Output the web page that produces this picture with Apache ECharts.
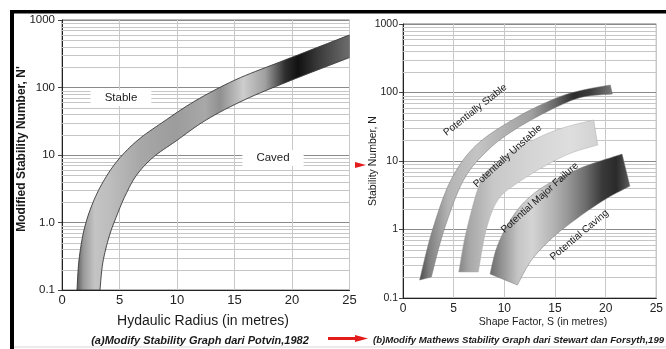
<!DOCTYPE html>
<html><head><meta charset="utf-8">
<script src="https://cdn.jsdelivr.net/npm/echarts@6/dist/echarts.min.js"></script>
<style>html,body{margin:0;padding:0;background:#fff}#c{width:666px;height:349px}</style>
</head><body><div id="c"></div>
<script>
// ---------------- DATA ----------------
const xTicks = [0, 5, 10, 15, 20, 25];
const leftYTickLabels = ['0.1', '1.0', '10', '100', '1000'];
const rightYTickLabels = ['0.1', '1', '10', '100', '1000'];
const minorGridValues = [0.2,0.3,0.4,0.5,0.6,0.7,0.8,0.9, 2,3,4,5,6,7,8,9, 20,30,40,50,60,70,80,90, 200,300,400,500,600,700,800,900];

// (a) Potvin band: upper/left edge and lower/right edge (Hydraulic radius, N')
const potvinUpperX = [1.304, 1.478, 1.913, 2.609, 3.565, 4.870, 6.609, 8.783, 11.565, 15.043, 18.957, 25];
const potvinUpperN = [0.1, 0.278, 0.774, 1.82, 3.98, 8.43, 16.7, 30.8, 63.1, 129, 239, 600];
const potvinLowerX = [3.304, 3.548, 4.113, 4.791, 5.522, 6.470, 7.896, 9.913, 12.53, 15.84, 19.63, 25];
const potvinLowerN = [0.1, 0.253, 0.631, 1.297, 2.55, 4.99, 9.15, 16.1, 33.0, 65.3, 122, 278];

// (b) Stewart & Forsyth bands (Shape factor S, N)
const stableUpperS = [1.64, 2.90, 4.73, 7.24, 11.29, 15.15, 17.76, 20.46];
const stableUpperN = [0.183, 0.98, 5.28, 17.1, 43.9, 83.2, 108.7, 128.6];
const stableLowerS = [2.80, 4.05, 5.98, 8.40, 11.29, 15.15, 17.76, 20.66];
const stableLowerN = [0.203, 0.98, 5.28, 14.5, 30.3, 61.4, 86, 95];

const unstableUpperS = [5.50, 6.27, 7.72, 9.36, 11.29, 15.15, 18.82];
const unstableUpperN = [0.24, 0.98, 5.28, 9.7, 15.5, 28.4, 39.7];
const unstableLowerS = [7.43, 8.20, 9.36, 11.29, 14.19, 16.6, 19.21];
const unstableLowerN = [0.24, 0.98, 2.70, 4.77, 8.75, 13.1, 17.1];

const failureUpperS = [8.59, 9.17, 10.04, 11.29, 12.74, 14.48, 17.76, 21.62];
const failureUpperN = [0.224, 0.50, 0.98, 1.93, 3.19, 4.77, 8.17, 12.6];
const failureLowerS = [11.29, 12.55, 14.0, 15.64, 18.05, 20.17, 22.39];
const failureLowerN = [0.155, 0.336, 0.594, 0.98, 1.80, 2.88, 4.31];

// annotation texts (anchored in data coordinates)
const leftNoteText = ['Stable', 'Caved'];
const leftNoteX = [5.13, 18.35];
const leftNoteN = [70, 9.0];
const rightNoteText = ['Potentially Stable', 'Potentially Unstable', 'Potential Major Failure', 'Potential Caving'];
const rightNoteS = [7.14, 10.33, 13.5, 17.4];
const rightNoteN = [55.6, 11.8, 2.9, 0.83];
const rightNoteAngle = [38, 42, 42, 40];

// ---------------- STYLES ----------------
const FONT = '"Liberation Sans", Arial, Helvetica, sans-serif';
const potvinStops = [[0,'#5c5c5c'],[0.026,'#9a9a9a'],[0.066,'#c4c4c4'],[0.121,'#bdbdbd'],[0.231,'#a8a8a8'],[0.36,'#9c9c9c'],[0.47,'#a8a8a8'],[0.525,'#909090'],[0.61,'#cdcdcd'],[0.69,'#a0a0a0'],[0.763,'#2e2e2e'],[0.81,'#111111'],[0.884,'#3a3a3a'],[1,'#6e6e6e']];
const stableStops = [[0,'#4a4a4a'],[0.05,'#808080'],[0.15,'#b4b4b4'],[0.3,'#c4c4c4'],[0.45,'#b0b0b0'],[0.58,'#a0a0a0'],[0.7,'#6a6a6a'],[0.8,'#2c2c2c'],[0.88,'#3a3a3a'],[1,'#7a7a7a']];
const unstableStops = [[0,'#858585'],[0.08,'#a8a8a8'],[0.25,'#c8c8c8'],[0.5,'#d4d4d4'],[0.8,'#dedede'],[1,'#d2d2d2']];
const failureStops = [[0,'#6a6a6a'],[0.07,'#8c8c8c'],[0.2,'#c4c4c4'],[0.3,'#d4d4d4'],[0.45,'#b4b4b4'],[0.55,'#999999'],[0.68,'#6e6e6e'],[0.8,'#3a3a3a'],[0.9,'#2a2a2a'],[1,'#5c5c5c']];

function smoothPath(pts, steps) {
  if (pts.length < 3) return pts.slice();
  const out = [];
  const n = pts.length;
  for (let i = 0; i < n - 1; i++) {
    const p0 = pts[Math.max(i - 1, 0)], p1 = pts[i], p2 = pts[i + 1], p3 = pts[Math.min(i + 2, n - 1)];
    for (let s = 0; s < steps; s++) {
      const t = s / steps, t2 = t * t, t3 = t2 * t;
      const f = k => 0.5 * (2 * p1[k] + (-p0[k] + p2[k]) * t + (2 * p0[k] - 5 * p1[k] + 4 * p2[k] - p3[k]) * t2 + (-p0[k] + 3 * p1[k] - 3 * p2[k] + p3[k]) * t3);
      out.push([f(0), f(1)]);
    }
  }
  out.push(pts[n - 1]);
  return out;
}

function bandSeries(axisIdx, ux, uy, lx, ly, stops, stroke, lw) {
  return {
    type: 'custom', xAxisIndex: axisIdx, yAxisIndex: axisIdx, z: 3, silent: true,
    data: [[ux[0], uy[0]]],
    renderItem: function (params, api) {
      const up = ux.map((x, i) => api.coord([x, uy[i]]));
      const lo = lx.map((x, i) => api.coord([x, ly[i]]));
      const pts = smoothPath(up, 8).concat(smoothPath(lo, 8).reverse());
      const cs = params.coordSys;
      return {
        type: 'group',
        clipPath: { type: 'rect', shape: { x: cs.x, y: cs.y, width: cs.width, height: cs.height } },
        children: [{
          type: 'polygon', shape: { points: pts },
          style: { fill: new echarts.graphic.LinearGradient(0, 0, 1, 0, stops.map(s => ({ offset: s[0], color: s[1] }))), stroke: stroke, lineWidth: lw }
        }]
      };
    }
  };
}

function minorGridSeries(axisIdx) {
  return {
    type: 'custom', xAxisIndex: axisIdx, yAxisIndex: axisIdx, z: 1, silent: true,
    data: minorGridValues.map(v => [0, v]),
    renderItem: function (params, api) {
      const cs = params.coordSys;
      const p = api.coord([0, api.value(1)]);
      const y = Math.round(p[1]) + 0.5;
      return { type: 'line', shape: { x1: cs.x, y1: y, x2: cs.x + cs.width, y2: y }, style: { stroke: '#c6c6c6', lineWidth: 1 } };
    }
  };
}

function noteSeries(axisIdx, texts, xs, ys, angles, opts) {
  return {
    type: 'custom', xAxisIndex: axisIdx, yAxisIndex: axisIdx, z: 6, silent: true,
    data: xs.map((x, i) => [x, ys[i], i]),
    renderItem: function (params, api) {
      const i = api.value(2);
      const p = api.coord([api.value(0), api.value(1)]);
      return {
        type: 'text', x: p[0], y: p[1], rotation: (angles ? angles[i] : 0) * Math.PI / 180,
        style: Object.assign({ text: texts[i], align: 'center', verticalAlign: 'middle', fill: '#1a1a1a', fontFamily: FONT }, opts)
      };
    }
  };
}

function yAxisCfg(idx, labels, fs, margin) {
  return {
    type: 'log', logBase: 10, min: 0.1, max: 1000, gridIndex: idx,
    axisLine: { show: true, onZero: false, lineStyle: { color: '#222', width: 1 } },
    axisTick: { show: true, length: 4, lineStyle: { color: '#444' } },
    minorTick: { show: false },
    axisLabel: { fontSize: fs, color: '#222', fontFamily: FONT, margin: margin,
      formatter: v => labels[Math.round(Math.log10(v)) + 1] },
    splitLine: { show: true, lineStyle: { color: '#8a8a8a', width: 1 } }
  };
}
function xAxisCfg(idx, fs, margin) {
  return {
    type: 'value', min: xTicks[0], max: xTicks[xTicks.length - 1], interval: xTicks[1] - xTicks[0], gridIndex: idx,
    axisLine: { show: true, onZero: false, lineStyle: { color: '#222', width: 1 } },
    axisTick: { show: false },
    axisLabel: { fontSize: fs, color: '#222', fontFamily: FONT, margin: margin },
    splitLine: { show: true, lineStyle: { color: '#c8c8c8', width: 1 } }
  };
}

const chart = echarts.init(document.getElementById('c'), null, { renderer: 'canvas' });
chart.setOption({
  animation: false,
  backgroundColor: '#ffffff',
  grid: [
    { left: 62, top: 20, width: 287.5, height: 270, show: true, borderColor: '#777', borderWidth: 1, backgroundColor: '#fff' },
    { left: 403, top: 24, width: 259, height: 274, show: true, borderColor: '#777', borderWidth: 1, backgroundColor: '#fff' }
  ],
  xAxis: [xAxisCfg(0, 13, 4), xAxisCfg(1, 12, 5)],
  yAxis: [yAxisCfg(0, leftYTickLabels, 11.5, 7), yAxisCfg(1, rightYTickLabels, 10.5, 5)],
  series: [
    minorGridSeries(0),
    minorGridSeries(1),
    bandSeries(0, potvinUpperX, potvinUpperN, potvinLowerX, potvinLowerN, potvinStops, '#3a3a3a', 0.9),
    bandSeries(1, stableUpperS, stableUpperN, stableLowerS, stableLowerN, stableStops, '#777', 0.5),
    bandSeries(1, unstableUpperS, unstableUpperN, unstableLowerS, unstableLowerN, unstableStops, '#aaa', 0.5),
    bandSeries(1, failureUpperS, failureUpperN, failureLowerS, failureLowerN, failureStops, '#777', 0.5),
    noteSeries(0, leftNoteText, leftNoteX, leftNoteN, null, { fontSize: 11.5, backgroundColor: '#fff', padding: [2, 14, 2, 14] }),
    noteSeries(1, rightNoteText, rightNoteS, rightNoteN, rightNoteAngle, { fontSize: 10 })
  ],
  graphic: [
    { type: 'rect', shape: { x: 10, y: 10, width: 656, height: 3.5 }, style: { fill: '#000' }, silent: true },
    { type: 'rect', shape: { x: 10, y: 10, width: 4, height: 339 }, style: { fill: '#000' }, silent: true },
    { type: 'rect', shape: { x: 14, y: 346.5, width: 652, height: 1 }, style: { fill: '#d8d8d8' }, silent: true },
    { type: 'text', x: 22, y: 149, rotation: Math.PI / 2, silent: true,
      style: { text: "Modified Stability Number, N'", fontSize: 12, fontWeight: 'bold', fontFamily: FONT, fill: '#1a1a1a', align: 'center', verticalAlign: 'middle' } },
    { type: 'text', x: 203, y: 321, silent: true,
      style: { text: 'Hydaulic Radius (in metres)', fontSize: 14, fontFamily: FONT, fill: '#1a1a1a', align: 'center', verticalAlign: 'middle' } },
    { type: 'text', x: 200, y: 341, silent: true,
      style: { text: '(a)Modify Stability Graph dari Potvin,1982', fontSize: 11, fontWeight: 'bold', fontStyle: 'italic', fontFamily: FONT, fill: '#1a1a1a', align: 'center', verticalAlign: 'middle' } },
    { type: 'text', x: 373, y: 161, rotation: Math.PI / 2, silent: true,
      style: { text: 'Stability Number, N', fontSize: 10.5, fontFamily: FONT, fill: '#1a1a1a', align: 'center', verticalAlign: 'middle' } },
    { type: 'text', x: 543, y: 322, silent: true,
      style: { text: 'Shape Factor, S (in metres)', fontSize: 10.5, fontFamily: FONT, fill: '#1a1a1a', align: 'center', verticalAlign: 'middle' } },
    { type: 'text', x: 373, y: 340, silent: true,
      style: { text: '(b)Modify Mathews Stability Graph dari Stewart dan Forsyth,199', fontSize: 9.6, fontWeight: 'bold', fontStyle: 'italic', fontFamily: FONT, fill: '#1a1a1a', align: 'left', verticalAlign: 'middle' } },
    { type: 'line', shape: { x1: 328, y1: 338.5, x2: 357, y2: 338.5 }, style: { stroke: '#e31b1b', lineWidth: 3 }, silent: true },
    { type: 'polygon', shape: { points: [[355, 335], [368, 338.5], [355, 342]] }, style: { fill: '#e31b1b' }, silent: true },
    { type: 'polygon', shape: { points: [[355, 162], [366, 165], [355, 168]] }, style: { fill: '#e31b1b' }, silent: true }
  ]
});
</script>
</body></html>
